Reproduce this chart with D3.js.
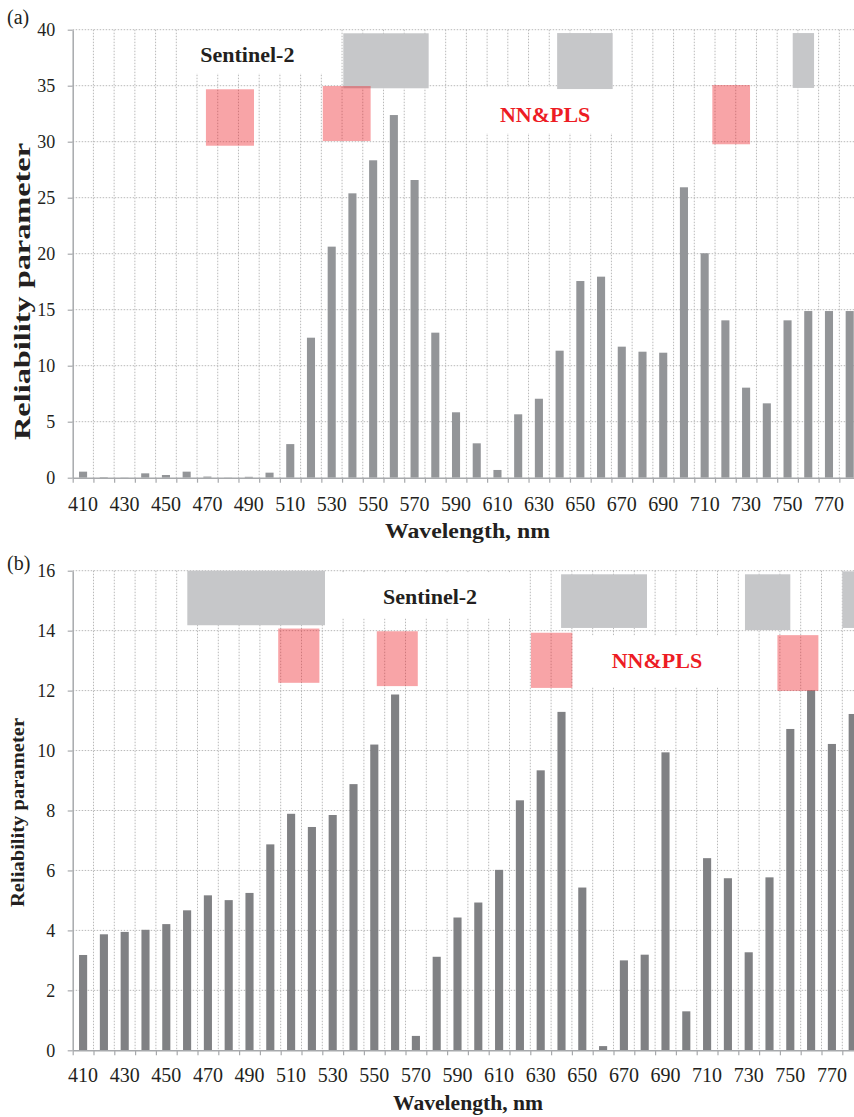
<!DOCTYPE html>
<html>
<head>
<meta charset="utf-8">
<script src="https://cdn.jsdelivr.net/npm/d3@7/dist/d3.min.js"></script>
<style>
  body { margin: 0; background: #fff; }
  svg { display: block; }
  text { font-family: "Liberation Serif", "Times New Roman", serif; fill: #231f20; }
</style>
</head>
<body>
<svg id="fig" width="854" height="1117"></svg>
<script>
// Wavelength categories (nm)
const wavelengths = [410, 420, 430, 440, 450, 460, 470, 480, 490, 500,
  510, 520, 530, 540, 550, 560, 570, 580, 590, 600,
  610, 620, 630, 640, 650, 660, 670, 680, 690, 700,
  710, 720, 730, 740, 750, 760, 770, 780];
const xTickLabels = [410, 430, 450, 470, 490, 510, 530, 550, 570, 590,
  610, 630, 650, 670, 690, 710, 730, 750, 770];

// Reliability parameter, panel (a)
const reliabilityA = [0.54, 0.05, 0.02, 0.39, 0.24, 0.54, 0.1, 0.02, 0.08, 0.45,
  3.0, 12.5, 20.63, 25.39, 28.34, 32.38, 26.58, 12.95, 5.84, 3.07,
  0.69, 5.66, 7.05, 11.34, 17.56, 17.95, 11.7, 11.25, 11.16, 25.93,
  20.04, 14.05, 8.04, 6.64, 14.05, 14.88, 14.88, 14.88];
// Reliability parameter, panel (b)
const reliabilityB = [3.18, 3.87, 3.95, 4.02, 4.21, 4.67, 5.17, 5.01, 5.25, 6.87,
  7.89, 7.45, 7.85, 8.88, 10.2, 11.87, 0.48, 3.12, 4.43, 4.93,
  6.02, 8.34, 9.34, 11.29, 5.43, 0.14, 3.0, 3.19, 9.94, 1.3,
  6.41, 5.74, 3.27, 5.77, 10.72, 12.01, 10.22, 11.22];

const yTicksA = [0, 5, 10, 15, 20, 25, 30, 35, 40];
const yTicksB = [0, 2, 4, 6, 8, 10, 12, 14, 16];

// Highlighted spectral ranges: [from nm, to nm, low value, high value]
const sentinelBandsA = [[535.6, 576.8, 34.77, 39.68], [638.8, 665.6, 34.7, 39.7], [752.5, 762.8, 34.8, 39.7]];
const nnplsBandsA = [[469.3, 492.5, 29.64, 34.68], [525.7, 548.8, 30.06, 34.97], [713.7, 731.9, 29.77, 35.06]];
const sentinelBandsB = [[460.1, 526.3, 14.18, 16.0], [639.8, 681.1, 14.09, 15.88], [728.2, 750.0, 14.02, 15.88], [775.0, 800.0, 14.09, 15.98]];
const nnplsBandsB = [[503.8, 523.6, 12.26, 14.07], [551.2, 570.9, 12.15, 13.98], [625.3, 645.2, 12.09, 13.93], [743.8, 763.5, 11.99, 13.85]];

// Legend captions: text, anchor (nm, value) and the cleared area behind them
const captionsA = [
  { text: "Sentinel-2", kind: "sentinel", nm: 489.3, value: 37.11, area: [456.9, 531.7, 36.1, 39.9] },
  { text: "NN&PLS", kind: "nnpls", nm: 633.0, value: 31.79, area: [596.7, 671.5, 30.77, 34.88] }
];
const captionsB = [
  { text: "Sentinel-2", kind: "sentinel", nm: 576.8, value: 14.9, area: [531.1, 622.5, 14.41, 15.94] },
  { text: "NN&PLS", kind: "nnpls", nm: 685.9, value: 12.77, area: [651.3, 716.3, 12.11, 13.84] }
];

const svg = d3.select("#fig");

function drawPanel(cfg) {
  const g = svg.append("g");
  const x0 = cfg.left, x1 = cfg.left + wavelengths.length * cfg.step;
  const xLin = d3.scaleLinear().domain([405, 785]).range([x0, x1]);
  const xBand = d3.scaleBand().domain(wavelengths).range([x0, x1])
    .paddingInner(0.61).paddingOuter(0.305);
  const yMax = cfg.yTicks[cfg.yTicks.length - 1];
  const y = d3.scaleLinear().domain([0, yMax]).range([cfg.base, cfg.top]);
  const boundaries = wavelengths.map(w => w - 5).concat([785]);

  // grid
  const grid = g.append("g").attr("stroke", "#b9b9b9").attr("stroke-width", 1)
    .attr("stroke-dasharray", "1.5,1.5");
  grid.selectAll("line.h").data(cfg.yTicks.slice(1)).join("line")
    .attr("x1", x0).attr("x2", x1).attr("y1", d => y(d)).attr("y2", d => y(d));
  grid.selectAll("line.v").data(boundaries.slice(1)).join("line")
    .attr("x1", d => xLin(d)).attr("x2", d => xLin(d))
    .attr("y1", y(yMax)).attr("y2", y(0));

  // cleared areas behind the captions
  g.append("g").selectAll("rect").data(cfg.captions).join("rect")
    .attr("x", d => xLin(d.area[0])).attr("width", d => xLin(d.area[1]) - xLin(d.area[0]))
    .attr("y", d => y(d.area[3])).attr("height", d => y(d.area[2]) - y(d.area[3]))
    .attr("fill", "#fff");

  // Sentinel-2 bands
  g.append("g").selectAll("rect").data(cfg.sentinel).join("rect")
    .attr("x", d => xLin(d[0])).attr("width", d => xLin(d[1]) - xLin(d[0]))
    .attr("y", d => y(d[3])).attr("height", d => y(d[2]) - y(d[3]))
    .attr("fill", "#c6c7c9");

  // bars
  g.append("g").selectAll("rect").data(cfg.values).join("rect")
    .attr("x", (d, i) => xBand(wavelengths[i]))
    .attr("width", xBand.bandwidth())
    .attr("y", d => y(d))
    .attr("height", d => y(0) - y(d))
    .attr("fill", cfg.barColor);

  // NN&PLS bands
  g.append("g").selectAll("rect").data(cfg.nnpls).join("rect")
    .attr("x", d => xLin(d[0])).attr("width", d => xLin(d[1]) - xLin(d[0]))
    .attr("y", d => y(d[3])).attr("height", d => y(d[2]) - y(d[3]))
    .attr("fill", "#ed1c24").attr("fill-opacity", 0.4);

  // captions
  g.append("g").selectAll("text").data(cfg.captions).join("text")
    .attr("x", d => xLin(d.nm)).attr("y", d => y(d.value))
    .attr("text-anchor", "middle")
    .attr("font-size", 22).attr("font-weight", "bold")
    .style("fill", d => d.kind === "nnpls" ? "#ed1c24" : "#231f20")
    .text(d => d.text);

  // y axis
  const yAxis = g.append("g").attr("transform", `translate(${x0},0)`)
    .call(d3.axisLeft(y).tickValues(cfg.yTicks).tickSize(5).tickSizeOuter(0).tickPadding(12.5));
  yAxis.selectAll("text").attr("font-size", 18).style("font-family", "Liberation Serif");
  yAxis.select(".domain").attr("stroke", "#a7a9ac").attr("stroke-width", 1.5);
  yAxis.selectAll(".tick line").attr("stroke", "#a7a9ac").attr("stroke-width", 1.2);

  // x axis: ticks on category boundaries
  const xAxis = g.append("g").attr("transform", `translate(0,${cfg.base})`)
    .call(d3.axisBottom(xLin).tickValues(boundaries).tickSize(5).tickSizeOuter(0).tickFormat(""));
  xAxis.select(".domain").attr("stroke", "#a7a9ac").attr("stroke-width", 1.5);
  xAxis.selectAll(".tick line").attr("stroke", "#a7a9ac").attr("stroke-width", 1.2);

  // x axis: labels at category centres
  const xLab = g.append("g").attr("transform", `translate(0,${cfg.base})`)
    .call(d3.axisBottom(xBand).tickValues(cfg.xLabels).tickSize(0).tickPadding(cfg.xPad));
  xLab.select(".domain").remove();
  xLab.selectAll("text").attr("font-size", 20).style("font-family", "Liberation Serif");

  // titles
  g.append("text").attr("x", cfg.xTitle.x).attr("y", cfg.xTitle.y)
    .attr("text-anchor", "middle").attr("font-weight", "bold")
    .attr("font-size", cfg.xTitle.size)
    .attr("textLength", cfg.xTitle.len).attr("lengthAdjust", "spacingAndGlyphs")
    .text("Wavelength, nm");
  g.append("text").attr("transform", `translate(${cfg.yTitle.x},${cfg.yTitle.y}) rotate(-90)`)
    .attr("text-anchor", "middle").attr("font-weight", "bold")
    .attr("font-size", cfg.yTitle.size)
    .attr("textLength", cfg.yTitle.len).attr("lengthAdjust", "spacingAndGlyphs")
    .text("Reliability parameter");
  g.append("text").attr("x", 7).attr("y", cfg.tagY).attr("font-size", 20).text(cfg.tag);
}

drawPanel({
  tag: "(a)", tagY: 23.5,
  left: 72.7, step: 20.72, base: 477.7, top: 29.7,
  yTicks: yTicksA, values: reliabilityA, xLabels: xTickLabels,
  sentinel: sentinelBandsA, nnpls: nnplsBandsA, captions: captionsA,
  barColor: "#939598", xPad: 19.5,
  xTitle: { x: 467.5, y: 538, size: 22, len: 165 },
  yTitle: { x: 30, y: 291.5, size: 24, len: 297 }
});

drawPanel({
  tag: "(b)", tagY: 569.5,
  left: 72.7, step: 20.8, base: 1050.3, top: 570.7,
  yTicks: yTicksB, values: reliabilityB, xLabels: xTickLabels,
  sentinel: sentinelBandsB, nnpls: nnplsBandsB, captions: captionsB,
  barColor: "#808184", xPad: 17.5,
  xTitle: { x: 468, y: 1110, size: 22, len: 150 },
  yTitle: { x: 24, y: 812.5, size: 19, len: 189 }
});
</script>
</body>
</html>
